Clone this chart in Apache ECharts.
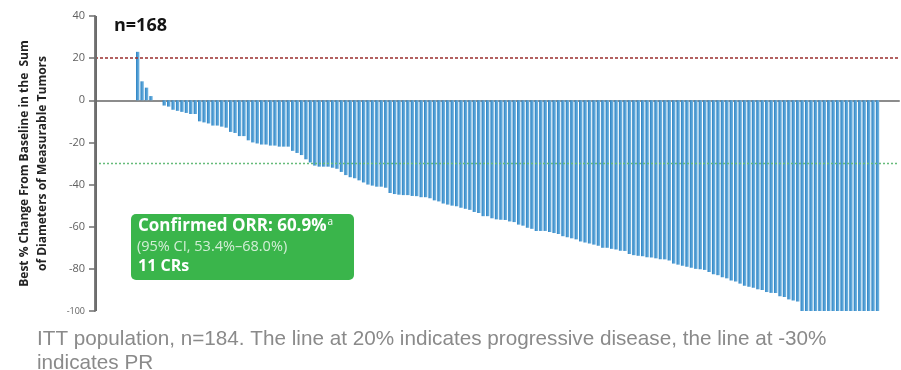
<!DOCTYPE html>
<html>
<head>
<meta charset="utf-8">
<script src="https://cdn.jsdelivr.net/npm/echarts@6/dist/echarts.min.js"></script>
<style>
  html, body { margin: 0; padding: 0; background: #ffffff; }
  #chart { width: 901px; height: 370px; }
</style>
</head>
<body>
<div id="chart"></div>
<script>
// Best % change from baseline in target lesions, one value per patient (sorted waterfall)
const bestChange = [
  23, 9, 6, 2, 0, 0,
  -2.5, -3, -4.5, -5, -5.5, -6, -6.5, -6.5, -10, -10.5,
  -11, -12, -12, -12.5, -13, -15, -15.5, -17, -17, -19,
  -20, -20.5, -21, -21, -21.5, -21.5, -22, -22, -22, -24,
  -25, -26, -28, -29.5, -31, -31.5, -31.5, -31.5, -32, -32.5,
  -34, -35.5, -36.5, -37, -38, -39, -40, -40.5, -41, -41,
  -41.5, -44, -44.5, -44.8, -45, -45, -45.4, -45.5, -46, -46,
  -46.5, -47.5, -48, -49, -49.5, -50, -50.3, -51, -51.5, -52,
  -53, -53.5, -55, -55, -56, -56.5, -56.7, -56.8, -57.5, -57.8,
  -59, -59.5, -60.5, -61, -62, -62, -62, -62.5, -63, -63.5,
  -64.5, -65, -65.5, -66, -67, -67.5, -68, -68.5, -69, -70,
  -70, -70.5, -70.8, -71.4, -71.5, -73, -73.5, -73.8, -74, -74.5,
  -74.6, -75, -75.4, -75.5, -76, -77.5, -78, -78.5, -79, -79.5,
  -80, -80.2, -80.5, -81.5, -82.5, -83, -84, -84.5, -85.5, -86,
  -87, -88, -88.5, -89, -89.7, -90, -91, -91.4, -91.5, -93,
  -93.3, -94.5, -95, -95.5,
  -100, -100, -100, -100, -100, -100, -100, -100, -100,
  -100, -100, -100, -100, -100, -100, -100, -100, -100
];

// Patient positions along the horizontal axis (1..n)
const patientIndex = bestChange.map((_, i) => i + 1);

// Horizontal extent of the plot, in patient-position units
const xMin = -8.64;
const xMax = 172.85;
// Left rule sits just inside the plot edge
const leftRule = xMin + 0.25;

// Y axis range and step
const yMin = -100;
const yMax = 40;
const yStep = 20;

// Reference thresholds
const progressiveDisease = 20;
const partialResponse = -30;

// Text
const sampleLabel = 'n=168';
const yTitle = 'Best % Change From Baseline in the  Sum\nof Diameters of Measurable Tumors';
const orrLines = ['Confirmed ORR: 60.9%', 'a', '(95% CI, 53.4%\u201368.0%)', '11 CRs'];
const footnote = 'ITT population, n=184. The line at 20% indicates progressive disease, the line at -30%\nindicates PR';

const chart = echarts.init(document.getElementById('chart'), null, { renderer: 'canvas' });

const barColor = new echarts.graphic.LinearGradient(0, 0, 1, 0, [
  { offset: 0, color: '#2b82c3' },
  { offset: 1, color: '#78b9e4' }
]);

chart.setOption({
  animation: false,
  backgroundColor: '#ffffff',
  title: {
    text: sampleLabel,
    left: 109,
    top: 12,
    textStyle: { fontFamily: 'Open Sans', fontSize: 18, fontWeight: 'bold', color: '#141414' }
  },
  grid: {
    left: 95,
    right: 2,
    top: 16,
    bottom: 59,
    outerBoundsMode: 'none'
  },
  xAxis: {
    type: 'value',
    min: xMin,
    max: xMax,
    axisLine: { show: true, onZero: true, lineStyle: { color: '#8c8c8c', width: 2 } },
    axisTick: { show: false },
    axisLabel: { show: false },
    splitLine: { show: false }
  },
  yAxis: {
    type: 'value',
    position: 'left',
    min: yMin,
    max: yMax,
    interval: yStep,
    name: yTitle,
    nameLocation: 'middle',
    nameRotate: 90,
    nameGap: 43,
    nameTextStyle: {
      fontFamily: 'Open Sans',
      fontSize: 12,
      fontWeight: 'bold',
      color: '#222222',
      lineHeight: 18
    },
    axisLine: { show: true, onZero: false, lineStyle: { color: '#707070', width: 1.8 } },
    axisTick: { show: true, inside: false, length: 6, lineStyle: { color: '#707070', width: 1.5 } },
    axisLabel: {
      margin: 10,
      fontFamily: 'Open Sans',
      fontSize: 11,
      color: '#5f5f5f',
      formatter: v => (v === yMin ? '{s|' + v + '}' : String(v)),
      rich: { s: { fontFamily: 'Open Sans', fontSize: 9, color: '#5f5f5f' } }
    },
    splitLine: { show: false },
    z: 5
  },
  series: [{
    type: 'bar',
    data: patientIndex.map((x, i) => [x, bestChange[i]]),
    barWidth: 3.4,
    itemStyle: { color: barColor },
    silent: true,
    clip: false,
    markLine: {
      silent: true,
      symbol: 'none',
      label: { show: false },
      data: [
        { yAxis: progressiveDisease, lineStyle: { color: '#9b2e2e', type: [3, 2], width: 1.6 } },
        { yAxis: partialResponse, lineStyle: { color: '#66bb7a', type: [2, 2], width: 1.3 } },
        // left axis rule along the plot edge
        { xAxis: leftRule, lineStyle: { color: '#6a6a6a', type: 'solid', width: 2 } }
      ]
    }
  }],
  graphic: [
    {
      type: 'group',
      left: 131,
      top: 214,
      children: [
        {
          type: 'rect',
          shape: { x: 0, y: 0, width: 223, height: 66, r: 5 },
          style: { fill: '#3ab54b' }
        },
        {
          type: 'text',
          x: 7,
          y: 3,
          style: {
            text: '{b|' + orrLines[0] + '}{sup|' + orrLines[1] + '}',
            rich: {
              b: { fontFamily: 'Open Sans', fontSize: 17, fontWeight: 'bold', fill: '#ffffff' },
              sup: { fontFamily: 'Open Sans', fontSize: 10, fill: '#ffffff', verticalAlign: 'top', padding: [0, 0, 9, 1] }
            }
          }
        },
        {
          type: 'text',
          x: 6,
          y: 25,
          style: { text: orrLines[2], fontFamily: 'Open Sans', fontSize: 14.5, fill: '#d3eed6' }
        },
        {
          type: 'text',
          x: 7,
          y: 44,
          style: { text: orrLines[3], fontFamily: 'Open Sans', fontSize: 16, fontWeight: 'bold', fill: '#ffffff' }
        }
      ]
    },
    {
      type: 'text',
      left: 37,
      top: 327,
      style: {
        text: footnote,
        fontFamily: 'Liberation Sans',
        fontSize: 20.7,
        lineHeight: 24,
        fill: '#8a8a8a'
      }
    }
  ]
});
</script>
</body>
</html>
